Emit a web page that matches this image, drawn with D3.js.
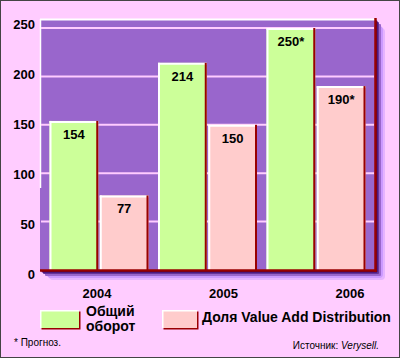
<!DOCTYPE html>
<html><head><meta charset="utf-8">
<script src="https://cdn.jsdelivr.net/npm/d3@7"></script>
<style>body{margin:0;background:#fff}svg{display:block}</style>
</head><body>
<script>
const years = ["2004","2005","2006"];
const series = ["Общий оборот","Доля Value Add Distribution"];
const totalValues = [154,214,250];
const vadValues = [77,150,190];
const totalLabels = ["154","214","250*"];
const vadLabels = ["77","150","190*"];
const yTicks = [0,50,100,150,200,250];

const W=400,H=358;
const svg=d3.select("body").append("svg").attr("width",W).attr("height",H);
svg.append("rect").attr("x",0.5).attr("y",0.5).attr("width",W-1).attr("height",H-1)
  .attr("fill","#FFCCFF").attr("stroke","#444").attr("stroke-width",1);

const L=40,R=376,T=19,B=271;
const y=d3.scaleLinear().domain([0,250]).range([270,28]);
const yl=d3.scaleLinear().domain([0,250]).range([279,28.5]);
const x0=d3.scaleBand().domain(years).range([40,375]).paddingInner(0.0876).paddingOuter(0.0876);
const x1=d3.scaleBand().domain(series).range([0,x0.bandwidth()]).paddingInner(0.03);
const xl=d3.scalePoint().domain(years).range([97,350]);

// shadow layers
const shades=[["#E6B3FF",9],["#CC99FF",7],["#9966CC",5],["#663399",3],["#330066",1.5]];
shades.forEach(([c,o])=>{
  svg.append("rect").attr("x",L+o).attr("y",T+o).attr("width",R-L).attr("height",B-T)
    .attr("rx",o>6?4:1).attr("fill",c);
});
// plot background
svg.append("rect").attr("x",L).attr("y",T).attr("width",R-L).attr("height",B-T).attr("fill","#9966CC");
// top white edge
svg.append("line").attr("x1",L).attr("x2",R).attr("y1",T+0.5).attr("y2",T+0.5).attr("stroke","#fff").attr("stroke-width",2);
svg.append("line").attr("x1",L+0.5).attr("x2",L+0.5).attr("y1",T).attr("y2",188).attr("stroke","#fff").attr("stroke-width",1.5);

// gridlines
svg.append("g").selectAll("line").data(yTicks.filter(d=>d>0)).join("line")
  .attr("x1",L+1).attr("x2",R-2).attr("y1",d=>y(d)).attr("y2",d=>y(d))
  .attr("stroke","#FFCCFF").attr("stroke-width",2);

// bars
const groups=svg.append("g").selectAll("g").data(years).join("g")
  .attr("transform",d=>`translate(${x0(d)},0)`);
const fills=["#CCFF99","#FFCCCC"];
groups.each(function(yr,i){
  const g=d3.select(this);
  const vals=[totalValues[i],vadValues[i]];
  const labs=[totalLabels[i],vadLabels[i]];
  series.forEach((s,j)=>{
    const bx=x1(s),bw=x1.bandwidth(),by=y(vals[j]);
    g.append("rect").attr("x",bx).attr("y",by).attr("width",bw).attr("height",270-by).attr("fill",fills[j]);
    g.append("line").attr("x1",bx+1).attr("x2",bx+1).attr("y1",by).attr("y2",270).attr("stroke","#fff").attr("stroke-width",2);
    g.append("line").attr("x1",bx).attr("x2",bx+bw).attr("y1",by+1).attr("y2",by+1).attr("stroke","#fff").attr("stroke-width",2);
    g.append("line").attr("x1",bx+bw-1).attr("x2",bx+bw-1).attr("y1",by).attr("y2",270).attr("stroke","#990000").attr("stroke-width",2);
    g.append("text").attr("x",bx+bw/2).attr("y",by+18).attr("text-anchor","middle")
      .attr("font-family","Arial, Liberation Sans, sans-serif").attr("font-weight","bold").attr("font-size",13)
      .attr("fill","#000").text(labs[j]);
  });
});

// right wall and floor
svg.append("line").attr("x1",R-0.5).attr("x2",R-0.5).attr("y1",T-1).attr("y2",B+1).attr("stroke","#990000").attr("stroke-width",2.5);
svg.append("line").attr("x1",L).attr("x2",R+0.5).attr("y1",B-0.5).attr("y2",B-0.5).attr("stroke","#990000").attr("stroke-width",2.5);

// y axis labels
svg.append("g").selectAll("text").data(yTicks).join("text")
  .attr("x",35).attr("y",d=>yl(d)).attr("text-anchor","end")
  .attr("font-family","Arial, Liberation Sans, sans-serif").attr("font-weight","bold").attr("font-size",13)
  .text(d=>d);

// x labels
svg.append("g").selectAll("text").data(years).join("text")
  .attr("x",d=>xl(d)).attr("y",298).attr("text-anchor","middle")
  .attr("font-family","Arial, Liberation Sans, sans-serif").attr("font-weight","bold").attr("font-size",13)
  .text(d=>d);

// legend
function swatch(x,w,fill){
  svg.append("rect").attr("x",x+1.5).attr("y",311.5).attr("width",w).attr("height",18).attr("fill","#990000");
  svg.append("rect").attr("x",x).attr("y",310).attr("width",w).attr("height",18).attr("fill",fill);
  svg.append("path").attr("d",`M${x+0.75},${328}V${310.75}H${x+w}`).attr("fill","none").attr("stroke","#fff").attr("stroke-width",1.5);
}
swatch(40,39,fills[0]);
swatch(162,35,fills[1]);
const lf={"font-family":"Arial, Liberation Sans, sans-serif","font-weight":"bold","font-size":14};
const t1=svg.append("text").attr("x",86).attr("y",316);
Object.entries(lf).forEach(([k,v])=>t1.attr(k,v));
t1.append("tspan").attr("x",86).attr("y",316).text("Общий");
t1.append("tspan").attr("x",86).attr("y",331).text("оборот");
const t2=svg.append("text").attr("x",202).attr("y",322).text(series[1]);
Object.entries(lf).forEach(([k,v])=>t2.attr(k,v));

// footnotes
svg.append("text").attr("x",14).attr("y",346).attr("font-family","Arial, Liberation Sans, sans-serif").attr("font-size",10).text("* Прогноз.");
const src=svg.append("text").attr("x",379).attr("y",349).attr("text-anchor","end").attr("font-family","Arial, Liberation Sans, sans-serif").attr("font-size",10);
src.append("tspan").text("Источник: ");
src.append("tspan").attr("font-style","italic").text("Verysell.");
</script>
</body></html>
